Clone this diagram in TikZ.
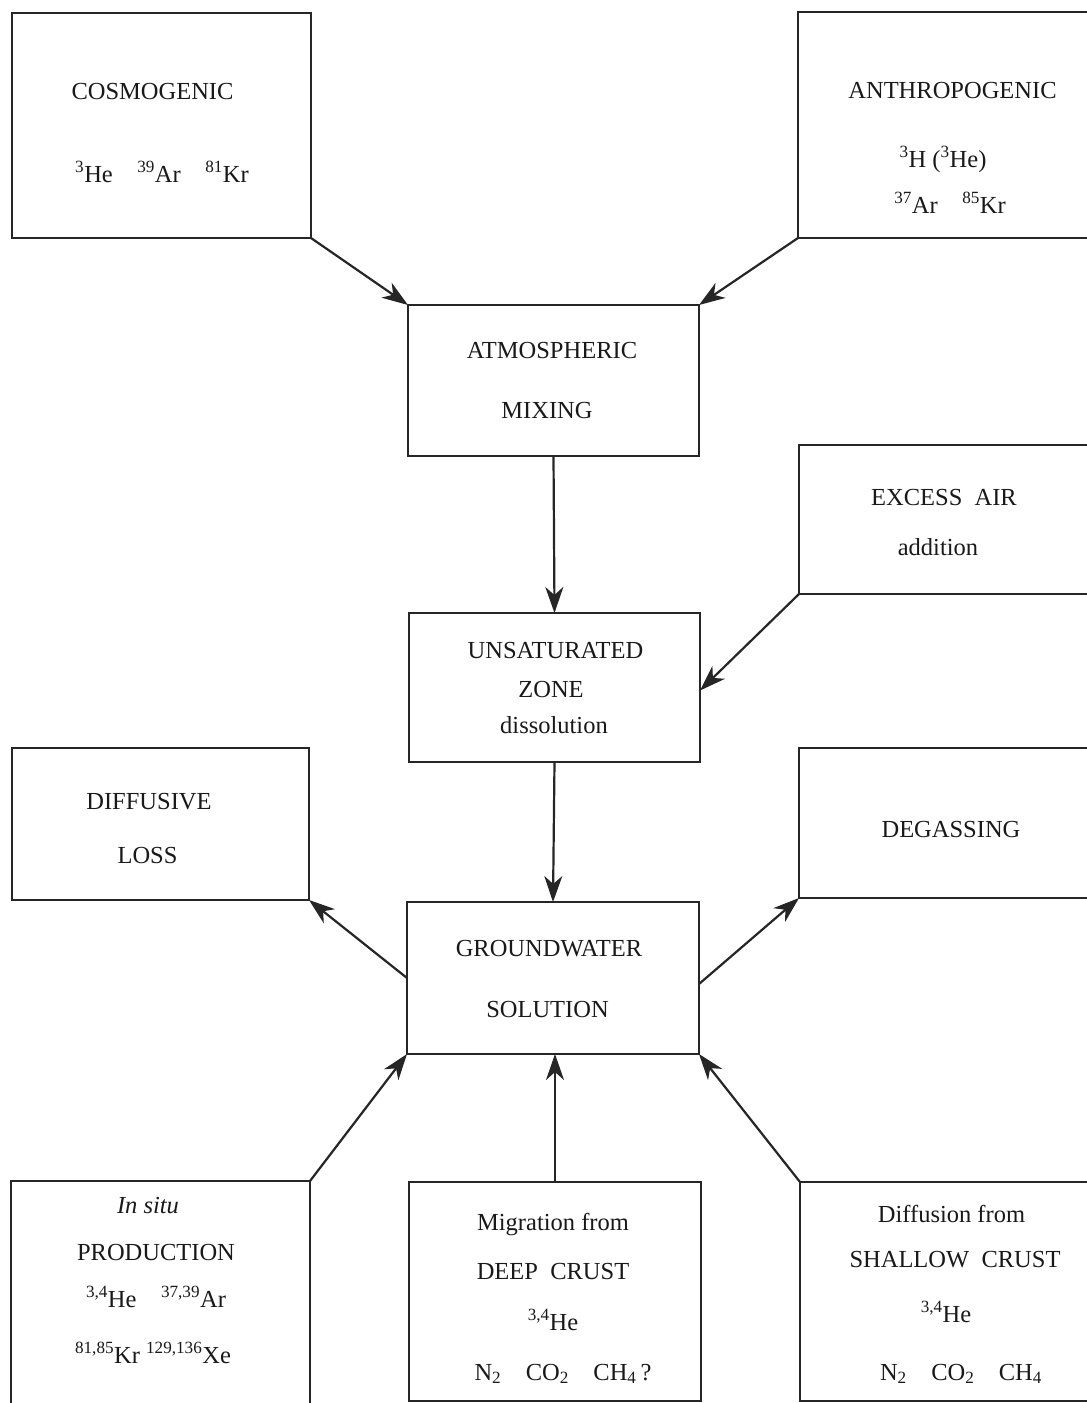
\documentclass[tikz,border=0pt]{standalone}
\usepackage{fontspec}
\setmainfont{Liberation Serif}
\usetikzlibrary{arrows.meta}
\newcommand\iso[2]{\textsuperscript{#1}#2}
\begin{document}
\begin{tikzpicture}[x=1pt,y=-1pt,
  box/.style={draw=black!85, line width=2.2pt, inner sep=0pt, outer sep=0pt, rectangle},
  txt/.style={anchor=base, inner sep=0pt, text=black!90, font=\fontsize{24.5}{29}\selectfont},
  flow/.style={draw=black!85, line width=2.2pt, -{Stealth[length=26pt,width=18pt,inset=8pt]}}]
\useasboundingbox (0,0) rectangle (1087,1403);
\fill[white] (0,0) rectangle (1087,1403);
\begin{scope}
\clip (0,0) rectangle (1087,1403);
% boxes
\node[box, minimum width=299pt, minimum height=225pt] (cos) at (161.5,125.5) {};
\node[box, minimum width=302pt, minimum height=226pt] (anth) at (949,125) {};
\node[box, minimum width=291pt, minimum height=151pt] (atm) at (553.5,380.5) {};
\node[box, minimum width=301pt, minimum height=149pt] (exc) at (949.5,519.5) {};
\node[box, minimum width=291pt, minimum height=149pt] (uns) at (554.5,687.5) {};
\node[box, minimum width=297pt, minimum height=152pt] (dif) at (160.5,824) {};
\node[box, minimum width=301pt, minimum height=150pt] (deg) at (949.5,823) {};
\node[box, minimum width=292pt, minimum height=152pt] (gw) at (553,978) {};
\node[box, minimum width=299pt, minimum height=229pt] (ins) at (160.5,1295.5) {};
\node[box, minimum width=292pt, minimum height=219pt] (mig) at (555,1291.5) {};
\node[box, minimum width=300pt, minimum height=219pt] (dfs) at (950,1291.5) {};
\end{scope}
% texts
\node[txt] (t1) at (152.5,99) {COSMOGENIC};
\node[txt] (t2) at (162,182) {\iso{3}{He}\quad\iso{39}{Ar}\quad\iso{81}{Kr}};
\node[txt] (t3) at (952.5,98) {ANTHROPOGENIC};
\node[txt] (t4) at (943,167) {\iso{3}{H} (\iso{3}{He})};
\node[txt] (t5) at (950,213) {\iso{37}{Ar}\quad\iso{85}{Kr}};
\node[txt] (t6) at (552,358) {ATMOSPHERIC};
\node[txt] (t7) at (547,418) {MIXING};
\node[txt] (t8) at (944,505) {EXCESS\ \ AIR};
\node[txt] (t9) at (938,555) {addition};
\node[txt] (t10) at (555.5,658) {UNSATURATED};
\node[txt] (t11) at (551,697) {ZONE};
\node[txt] (t12) at (554,733) {dissolution};
\node[txt] (t13) at (149,809) {DIFFUSIVE};
\node[txt] (t14) at (147.5,863) {LOSS};
\node[txt] (t15) at (951,837) {DEGASSING};
\node[txt] (t16) at (549,956) {GROUNDWATER};
\node[txt] (t17) at (547.5,1017) {SOLUTION};
\node[txt] (t18) at (148,1213) {\textit{In situ}};
\node[txt] (t19) at (156,1260) {PRODUCTION};
\node[txt] (t20) at (156,1307) {\iso{3,4}{He}\quad\iso{37,39}{Ar}};
\node[txt] (t21) at (153,1363) {\iso{81,85}{Kr}\ \iso{129,136}{Xe}};
\node[txt] (t22) at (553,1230) {Migration from};
\node[txt] (t23) at (553,1279) {DEEP\ \ CRUST};
\node[txt] (t24) at (553,1330) {\iso{3,4}{He}};
\node[txt] (t25) at (563,1380) {N\textsubscript{2}\quad CO\textsubscript{2}\quad CH\textsubscript{4}\,?};
\node[txt] (t26) at (951.5,1222) {Diffusion from};
\node[txt] (t27) at (955,1267) {SHALLOW\ \ CRUST};
\node[txt] (t28) at (946,1322) {\iso{3,4}{He}};
\node[txt] (t29) at (961,1380) {N\textsubscript{2}\quad CO\textsubscript{2}\quad CH\textsubscript{4}};
% connectors
\draw[flow] (cos.south east) -- (atm.north west);
\draw[flow] (anth.south west) -- (atm.north east);
\draw[flow] (atm.south) -- (uns.north);
\draw[flow] (exc.south west) -- ([yshift=-3pt]uns.east);
\draw[flow] (uns.south) -- (gw.north);
\draw[flow] (gw.west) -- (dif.south east);
\draw[flow] ([yshift=-6pt]gw.east) -- (deg.south west);
\draw[flow] (ins.north east) -- (gw.south west);
\draw[flow] (mig.north) -- (mig.north |- gw.south);
\draw[flow] (dfs.north west) -- (gw.south east);
\end{tikzpicture}
\end{document}
